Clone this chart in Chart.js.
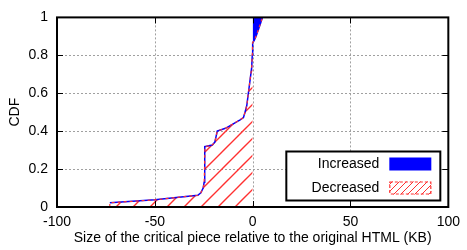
<!DOCTYPE html>
<html>
<head>
<meta charset="utf-8">
<script src="https://cdn.jsdelivr.net/npm/chart.js@4/dist/chart.umd.min.js"></script>
<style>
  html, body { margin: 0; padding: 0; background: #fff; }
  #wrap { width: 467px; height: 250px; }
</style>
</head>
<body>
<div id="wrap"><canvas id="cdfChart"></canvas></div>
<script>
// CDF of the critical piece size change (KB)
const curveX = [-73, -50, -28, -26.5, -25.3, -24.8, -24.6, -24.4, -20.6, -19.3, -18.1, -13.9, -6.4, -4.7, -3.9, -3.0, -2.2, -1.2, -0.5, -0.2, 0, 0.7, 1.7, 2.9, 4.0, 5.0];
const curveY = [0.022, 0.038, 0.062, 0.075, 0.10, 0.13, 0.2, 0.318, 0.327, 0.343, 0.40, 0.415, 0.46, 0.472, 0.50, 0.535, 0.60, 0.68, 0.735, 0.80, 0.868, 0.876, 0.90, 0.935, 0.968, 1.0];
const xTicks = [-100, -50, 0, 50, 100];
const yTicks = [0, 0.2, 0.4, 0.6, 0.8, 1];
const seriesLabels = ['Increased', 'Decreased'];

const FONT = 'Liberation Sans, Arial, Helvetica, sans-serif';
const RED = '#ff3030';
const BLUE = '#0000ff';

const curve = curveX.map((x, i) => ({ x: x, y: curveY[i] }));
const decreasedPts = [{ x: curveX[0], y: 0 }].concat(curve.filter(p => p.x <= 0), [{ x: 0, y: 0 }]);
const increasedPts = curve.filter(p => p.x >= 0);

// red "/" hatch
function makeHatch(size, width) {
    const c = document.createElement('canvas');
    c.width = size; c.height = size;
    const g = c.getContext('2d');
    g.strokeStyle = RED;
    g.lineWidth = width;
    g.beginPath();
    g.moveTo(-2, size + 2); g.lineTo(size + 2, -2);
    g.moveTo(-2, 2); g.lineTo(2, -2);
    g.moveTo(size - 2, size + 2); g.lineTo(size + 2, size - 2);
    g.stroke();
    return g.createPattern(c, 'repeat');
}

// dotted grid under the data
const gridPlugin = {
    id: 'dotgrid',
    beforeDatasetsDraw(chart) {
        const { ctx, chartArea: a, scales } = chart;
        ctx.save();
        ctx.strokeStyle = '#a0a0a0';
        ctx.lineWidth = 1;
        ctx.setLineDash([2, 2]);
        ctx.beginPath();
        xTicks.slice(1, -1).forEach(v => {
            const px = Math.round(scales.x.getPixelForValue(v)) + 0.5;
            ctx.moveTo(px, a.top); ctx.lineTo(px, a.bottom);
        });
        yTicks.slice(1, -1).forEach(v => {
            const py = Math.round(scales.y.getPixelForValue(v)) + 0.5;
            ctx.moveTo(a.left, py); ctx.lineTo(a.right, py);
        });
        ctx.stroke();
        ctx.restore();
    }
};

// frame, inward ticks and the boxed legend, gnuplot style
const framePlugin = {
    id: 'frame',
    afterDraw(chart) {
        const { ctx, chartArea: a, scales } = chart;
        ctx.save();
        ctx.strokeStyle = '#000';
        ctx.lineWidth = 1;
        ctx.beginPath();
        xTicks.slice(1, -1).forEach(v => {
            const px = Math.round(scales.x.getPixelForValue(v)) + 0.5;
            ctx.moveTo(px, a.top); ctx.lineTo(px, a.top + 6);
            ctx.moveTo(px, a.bottom); ctx.lineTo(px, a.bottom - 6);
        });
        yTicks.slice(1, -1).forEach(v => {
            const py = Math.round(scales.y.getPixelForValue(v)) + 0.5;
            ctx.moveTo(a.left, py); ctx.lineTo(a.left + 6, py);
            ctx.moveTo(a.right, py); ctx.lineTo(a.right - 6, py);
        });
        ctx.stroke();

        ctx.lineWidth = 2;
        ctx.strokeRect(a.left, a.top, a.right - a.left, a.bottom - a.top);

        // legend box
        const bw = 154, bh = 49;
        const bx = a.right - 8 - bw, by = a.bottom - 6.5 - bh;
        ctx.fillStyle = '#fff';
        ctx.fillRect(bx, by, bw, bh);
        ctx.lineWidth = 2;
        ctx.strokeRect(bx, by, bw, bh);

        ctx.font = '14px ' + FONT;
        ctx.fillStyle = '#000';
        ctx.textAlign = 'right';
        ctx.textBaseline = 'middle';
        ctx.fillText(chart.data.datasets[3].label, bx + 93, by + 12.5);
        ctx.fillText(chart.data.datasets[2].label, bx + 93, by + 37);

        ctx.fillStyle = BLUE;
        ctx.fillRect(bx + 103, by + 6, 42, 13);

        ctx.fillStyle = makeHatch(7, 1);
        ctx.fillRect(bx + 103, by + 30, 42, 13);
        ctx.strokeStyle = RED;
        ctx.lineWidth = 1.2;
        ctx.setLineDash([3, 2]);
        ctx.strokeRect(bx + 103.5, by + 30.5, 41, 12);
        ctx.restore();
    }
};

new Chart(document.getElementById('cdfChart'), {
    type: 'line',
    data: {
        datasets: [
            { label: 'curve red', data: [{ x: curveX[0], y: 0 }].concat(curve), borderColor: RED, borderWidth: 1.2, borderDash: [3, 3], pointRadius: 0, fill: false, tension: 0 },
            { label: 'curve blue', data: curve, borderColor: BLUE, borderWidth: 1.5, pointRadius: 0, fill: false, tension: 0 },
            { label: seriesLabels[1], data: decreasedPts, borderWidth: 0, borderColor: 'rgba(0,0,0,0)', backgroundColor: makeHatch(17, 1.4), pointRadius: 0, fill: 'origin', tension: 0 },
            { label: seriesLabels[0], data: increasedPts, borderWidth: 0, borderColor: 'rgba(0,0,0,0)', backgroundColor: BLUE, pointRadius: 0, fill: 'end', tension: 0 }
        ]
    },
    options: {
        responsive: true,
        maintainAspectRatio: false,
        animation: false,
        layout: { padding: { top: 7, right: 12, left: 0, bottom: 0 } },
        plugins: { legend: { display: false }, tooltip: { enabled: false } },
        scales: {
            x: {
                type: 'linear',
                min: -100, max: 100,
                afterFit: s => { s.height = 43; },
                afterBuildTicks: s => { s.ticks = xTicks.map(v => ({ value: v })); },
                ticks: { color: '#000', font: { family: FONT, size: 14 }, padding: 7, maxRotation: 0, callback: v => String(v) },
                grid: { display: false, drawTicks: false },
                border: { display: false },
                title: { display: true, text: 'Size of the critical piece relative to the original HTML (KB)', color: '#000', font: { family: FONT, size: 14 }, padding: { top: 0, bottom: 3 } }
            },
            y: {
                min: 0, max: 1,
                afterFit: s => { s.width = 57; },
                afterBuildTicks: s => { s.ticks = yTicks.map(v => ({ value: v })); },
                ticks: { color: '#000', font: { family: FONT, size: 14 }, padding: 9, callback: v => String(+v.toFixed(1)) },
                grid: { display: false, drawTicks: false },
                border: { display: false },
                title: { display: true, text: 'CDF', color: '#000', font: { family: FONT, size: 14 }, padding: { top: 7, bottom: 0 } }
            }
        }
    },
    plugins: [gridPlugin, framePlugin]
});
</script>
</body>
</html>
